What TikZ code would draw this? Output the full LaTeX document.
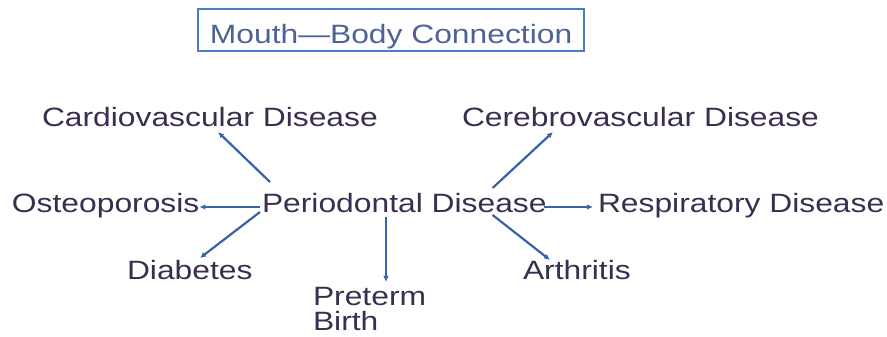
\documentclass[tikz,border=0pt]{standalone}
\usepackage{fontspec}
\setmainfont{Liberation Sans}[FakeStretch=1.2]
\usetikzlibrary{calc,arrows.meta}
\definecolor{txt}{RGB}{58,46,80}
\definecolor{ttl}{RGB}{78,98,150}
\definecolor{frame}{RGB}{74,124,198}
\definecolor{arrc}{RGB}{55,98,170}
\begin{document}
\begin{tikzpicture}[x=1pt,y=1pt,
  lbl/.style={font=\fontsize{26.5}{25.5}\selectfont, text=txt, inner sep=0pt, outer sep=0pt},
  titlebox/.style={draw=frame, line width=1.8pt, font=\fontsize{26.5}{27}\selectfont, text=ttl,
    inner xsep=12pt, inner ysep=0pt, text height=34.3pt, text depth=7.7pt},
  arr/.style={draw=arrc, line width=2.2pt, -{Latex[length=6pt,width=5.5pt]}}]
\useasboundingbox (0,0) rectangle (887,337);
\node[titlebox, anchor=base west] (title) at (197,293.7) {Mouth—Body Connection};
\node[lbl, anchor=base west] (cv) at (42,210) {Cardiovascular Disease};
\node[lbl, anchor=base west] (cb) at (462,210) {Cerebrovascular Disease};
\node[lbl, anchor=base west] (os) at (12,124) {Osteoporosis};
\node[lbl, anchor=base west] (pd) at (262,124) {Periodontal Disease};
\node[lbl, anchor=base west] (rd) at (598,124) {Respiratory Disease};
\node[lbl, anchor=base west] (db) at (127,57) {Diabetes};
\node[lbl, anchor=base west] (ar) at (523,57) {Arthritis};
\node[lbl, anchor=north west, align=left] (pt) at (313,50) {Preterm\\Birth};
\draw[arr] ($(pd.base west)+(8,31)$) -- ($(cv.base west)+(176,-5)$);
\draw[arr] ($(pd.base west)+(-2,6)$) -- ($(os.base east)+(0,6)$);
\draw[arr] ($(pd.base west)+(-2,1)$) -- ($(db.base west)+(73,22)$);
\draw[arr] ($(pd.base west)+(124,-4)$) -- ($(pt.north west)+(73,5)$);
\draw[arr] ($(pd.base east)+(-54,25)$) -- ($(cb.base west)+(91,-5)$);
\draw[arr] ($(pd.base east)+(-3,6)$) -- ($(rd.base west)+(-5,6)$);
\draw[arr] ($(pd.base east)+(-54,-2)$) -- ($(ar.base west)+(27,20)$);
\end{tikzpicture}
\end{document}
